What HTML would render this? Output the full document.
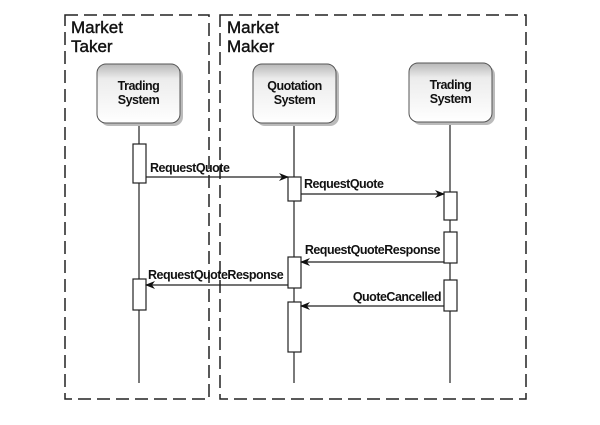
<!DOCTYPE html>
<html><head><style>
body{margin:0;background:#fff;width:600px;height:420px;overflow:hidden}
svg{font-family:"Liberation Sans",Arial,sans-serif}
.l{font-weight:bold;font-size:12.5px;letter-spacing:-0.5px;fill:#111}
.h{font-weight:bold;font-size:12.5px;letter-spacing:-0.5px;fill:#111}
</style></head><body>
<svg width="600" height="420" viewBox="0 0 600 420">
<defs>
<linearGradient id="g" x1="0" y1="0" x2="0" y2="1">
<stop offset="0" stop-color="#b8b8b8"/><stop offset="0.25" stop-color="#ececec"/><stop offset="1" stop-color="#ffffff"/>
</linearGradient>
<marker id="a" markerWidth="10" markerHeight="8" refX="9" refY="4" orient="auto" markerUnits="userSpaceOnUse">
<path d="M0,0 L10,4 L0,8 L3,4 Z" fill="#111"/></marker>
</defs>
<g fill="none" stroke="#222" stroke-width="1.5" stroke-dasharray="13,6">
<rect x="65" y="15" width="144" height="384"/>
<rect x="220" y="15" width="306" height="384"/>
</g>
<g font-size="17" fill="#111" stroke="#111" stroke-width="0.4">
<text x="71" y="33">Market</text>
<text x="71" y="52">Taker</text>
<text x="227" y="33">Market</text>
<text x="227" y="52">Maker</text>
</g>
<g stroke="#222" stroke-width="1.2">
<line x1="139" y1="124" x2="139" y2="383"/>
<line x1="294" y1="124" x2="294" y2="383"/>
<line x1="450" y1="124" x2="450" y2="383"/>
</g>
<g>
<rect x="100" y="67" width="83" height="59" rx="9" fill="#bbb"/>
<rect x="97" y="64" width="83" height="59" rx="9" fill="url(#g)" stroke="#555" stroke-width="1"/>
<rect x="256" y="67" width="83" height="59" rx="9" fill="#bbb"/>
<rect x="253" y="64" width="83" height="59" rx="9" fill="url(#g)" stroke="#555" stroke-width="1"/>
<rect x="412" y="66" width="83" height="59" rx="9" fill="#bbb"/>
<rect x="409" y="63" width="83" height="59" rx="9" fill="url(#g)" stroke="#555" stroke-width="1"/>
</g>
<g class="h" text-anchor="middle">
<text x="138.5" y="90">Trading</text><text x="138.5" y="104">System</text>
<text x="294.5" y="90">Quotation</text><text x="294.5" y="104">System</text>
<text x="450.5" y="89">Trading</text><text x="450.5" y="103">System</text>
</g>
<g fill="#fff" stroke="#222" stroke-width="1.2">
<rect x="133" y="144" width="13" height="39"/>
<rect x="288" y="177" width="13" height="24"/>
<rect x="444" y="192" width="13" height="28"/>
<rect x="444" y="232" width="13" height="31"/>
<rect x="444" y="280" width="13" height="31"/>
<rect x="288" y="257" width="13" height="31"/>
<rect x="133" y="279" width="13" height="31"/>
<rect x="288" y="302" width="13" height="50"/>
</g>
<g stroke="#222" stroke-width="1.2" marker-end="url(#a)">
<line x1="146" y1="177" x2="288" y2="177"/>
<line x1="301" y1="194" x2="444" y2="194"/>
<line x1="444" y1="262" x2="301" y2="262"/>
<line x1="288" y1="285" x2="146" y2="285"/>
<line x1="444" y1="306" x2="301" y2="306"/>
</g>
<text class="l" x="150" y="172">RequestQuote</text>
<text class="l" x="304" y="188">RequestQuote</text>
<text class="l" x="440" y="254" text-anchor="end">RequestQuoteResponse</text>
<text class="l" x="148" y="279">RequestQuoteResponse</text>
<text class="l" x="441" y="301" text-anchor="end">QuoteCancelled</text>
</svg>
</body></html>
